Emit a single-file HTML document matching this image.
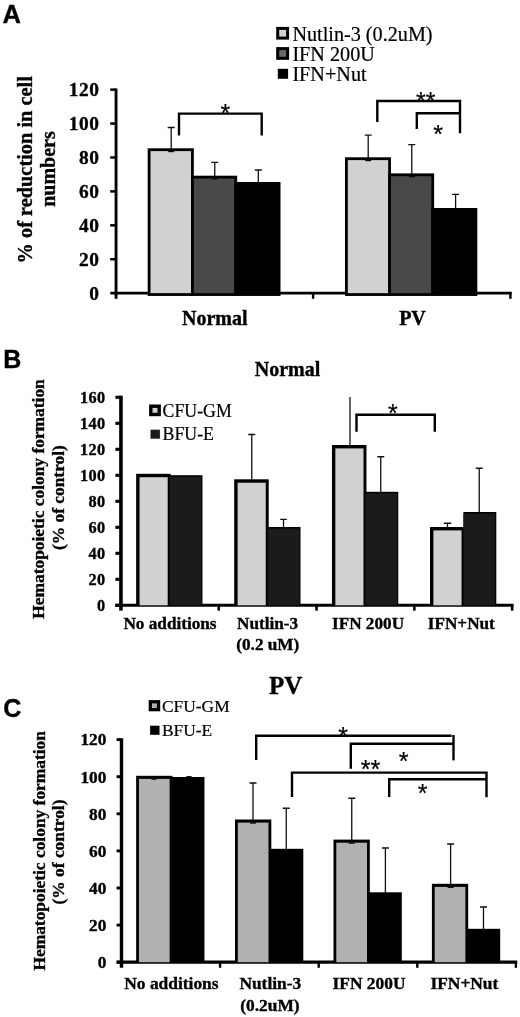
<!DOCTYPE html>
<html><head><meta charset="utf-8"><title>Figure</title>
<style>
html,body{margin:0;padding:0;background:#fff;}
svg{display:block;will-change:transform;filter:blur(0.4px);}
text{font-family:"Liberation Serif",serif;fill:#000;stroke:#000;stroke-width:0.2px;}
.b{font-weight:bold;stroke:#000;stroke-width:0.35px;}
.s{font-family:"Liberation Sans",sans-serif;}
.ax{stroke:#000;fill:none;}
.br{stroke:#000;stroke-width:2.4;fill:none;stroke-linejoin:miter;}
.er{stroke:#111;stroke-width:1.3;fill:none;}
</style></head><body>
<svg width="520" height="1017" viewBox="0 0 520 1017">
<rect width="520" height="1017" fill="#fff"/>
<text class="s b" x="2.5" y="22.8" font-size="25.5">A</text>
<path class="ax" stroke-width="2.9" d="M116.05 88.5V298.8"/>
<path class="ax" stroke-width="2.6" d="M110.3 293.15H511.8"/>
<path class="ax" stroke-width="2.5" d="M110.2 259.23H116.05"/>
<path class="ax" stroke-width="2.5" d="M110.2 225.31H116.05"/>
<path class="ax" stroke-width="2.5" d="M110.2 191.39H116.05"/>
<path class="ax" stroke-width="2.5" d="M110.2 157.47H116.05"/>
<path class="ax" stroke-width="2.5" d="M110.2 123.55H116.05"/>
<path class="ax" stroke-width="2.5" d="M110.2 89.63H116.05"/>
<path class="ax" stroke-width="2.4" d="M313.1 293.15V298.8"/>
<path class="ax" stroke-width="2.4" d="M510.4 293.15V298.8"/>
<text class="b" x="99.3" y="299.95" font-size="19.4" letter-spacing="0.45" text-anchor="end">0</text>
<text class="b" x="99.3" y="266.03" font-size="19.4" letter-spacing="0.45" text-anchor="end">20</text>
<text class="b" x="99.3" y="232.11" font-size="19.4" letter-spacing="0.45" text-anchor="end">40</text>
<text class="b" x="99.3" y="198.19" font-size="19.4" letter-spacing="0.45" text-anchor="end">60</text>
<text class="b" x="99.3" y="164.27" font-size="19.4" letter-spacing="0.45" text-anchor="end">80</text>
<text class="b" x="99.3" y="130.35" font-size="19.4" letter-spacing="0.45" text-anchor="end">100</text>
<text class="b" x="99.3" y="96.43" font-size="19.4" letter-spacing="0.45" text-anchor="end">120</text>
<rect x="149.10" y="149.70" width="43.33" height="144.85" fill="#d1d1d1" stroke="#000" stroke-width="2.8"/>
<rect x="192.43" y="177.10" width="43.33" height="117.45" fill="#494949" stroke="#000" stroke-width="2.8"/>
<rect x="235.76" y="183.40" width="43.33" height="111.15" fill="#000" stroke="#000" stroke-width="2.8"/>
<rect x="346.40" y="158.70" width="43.17" height="135.85" fill="#d1d1d1" stroke="#000" stroke-width="2.8"/>
<rect x="389.57" y="174.80" width="43.17" height="119.75" fill="#494949" stroke="#000" stroke-width="2.8"/>
<rect x="432.74" y="209.40" width="43.17" height="85.15" fill="#000" stroke="#000" stroke-width="2.8"/>
<path class="er" d="M171.20 149.50V127.50M167.70 127.50H174.70"/>
<path class="er" d="M214.75 177.00V162.30M211.25 162.30H218.25"/>
<path class="er" d="M258.30 183.00V170.00M254.80 170.00H261.80"/>
<path class="er" d="M368.20 158.50V135.10M364.70 135.10H371.70"/>
<path class="er" d="M411.80 174.60V144.70M408.30 144.70H415.30"/>
<path class="er" d="M455.60 209.00V194.30M452.10 194.30H459.10"/>
<rect x="168.20" y="150.80" width="6.00" height="1.4" fill="#0a0a0a"/>
<rect x="211.75" y="178.20" width="6.00" height="1.4" fill="#0a0a0a"/>
<rect x="365.20" y="159.80" width="6.00" height="1.4" fill="#0a0a0a"/>
<rect x="408.80" y="175.90" width="6.00" height="1.4" fill="#0a0a0a"/>
<path class="br" d="M179 135.5V113.6H261.7V135.5"/>
<path class="br" d="M377.3 122V101H460V133.2"/>
<path class="br" d="M416.8 129V113.3H460"/>
<text class="s" x="225.3" y="121.6" font-size="25" text-anchor="middle">*</text>
<text class="s" x="425.8" y="110.1" font-size="25" text-anchor="middle">**</text>
<text class="s" x="438" y="143.1" font-size="25" text-anchor="middle">*</text>
<rect x="277.7" y="28.4" width="9.9" height="9.7" fill="#d1d1d1" stroke="#000" stroke-width="3"/>
<rect x="277.7" y="48.6" width="9.9" height="9.7" fill="#6a6a6a" stroke="#000" stroke-width="3"/>
<rect x="277.8" y="68.8" width="10.3" height="10" fill="#000"/>
<text x="292.4" y="40.50" font-size="20.2">Nutlin-3 (0.2uM)</text>
<text x="292.4" y="60.65" font-size="20.2">IFN 200U</text>
<text x="292.4" y="80.80" font-size="20.2">IFN+Nut</text>
<text class="b" x="214.8" y="325" font-size="20" text-anchor="middle">Normal</text>
<text class="b" x="412.5" y="325" font-size="20" text-anchor="middle">PV</text>
<text class="b" font-size="20.35" text-anchor="middle" transform="translate(32 169.8) rotate(-90)">% of reduction in cell</text>
<text class="b" font-size="20" text-anchor="middle" transform="translate(55 169) rotate(-90)">numbers</text>
<text class="s b" x="3.2" y="367.6" font-size="25">B</text>
<text class="b" x="287.5" y="375.8" font-size="20" text-anchor="middle">Normal</text>
<path class="ax" stroke-width="3.6" d="M120.95 395.7V610.6"/>
<path class="ax" stroke-width="3.1" d="M115.4 605.3H513.6"/>
<path class="ax" stroke-width="3.1" d="M115.4 605.30H120.95"/>
<text class="b" x="105.5" y="611.00" font-size="16.3" letter-spacing="0.4" text-anchor="end">0</text>
<path class="ax" stroke-width="3.1" d="M115.4 579.30H120.95"/>
<text class="b" x="105.5" y="585.00" font-size="16.3" letter-spacing="0.4" text-anchor="end">20</text>
<path class="ax" stroke-width="3.1" d="M115.4 553.30H120.95"/>
<text class="b" x="105.5" y="559.00" font-size="16.3" letter-spacing="0.4" text-anchor="end">40</text>
<path class="ax" stroke-width="3.1" d="M115.4 527.30H120.95"/>
<text class="b" x="105.5" y="533.00" font-size="16.3" letter-spacing="0.4" text-anchor="end">60</text>
<path class="ax" stroke-width="3.1" d="M115.4 501.30H120.95"/>
<text class="b" x="105.5" y="507.00" font-size="16.3" letter-spacing="0.4" text-anchor="end">80</text>
<path class="ax" stroke-width="3.1" d="M115.4 475.30H120.95"/>
<text class="b" x="105.5" y="481.00" font-size="16.3" letter-spacing="0.4" text-anchor="end">100</text>
<path class="ax" stroke-width="3.1" d="M115.4 449.30H120.95"/>
<text class="b" x="105.5" y="455.00" font-size="16.3" letter-spacing="0.4" text-anchor="end">120</text>
<path class="ax" stroke-width="3.1" d="M115.4 423.30H120.95"/>
<text class="b" x="105.5" y="429.00" font-size="16.3" letter-spacing="0.4" text-anchor="end">140</text>
<path class="ax" stroke-width="3.1" d="M115.4 397.30H120.95"/>
<text class="b" x="105.5" y="403.00" font-size="16.3" letter-spacing="0.4" text-anchor="end">160</text>
<path class="ax" stroke-width="2.6" d="M218.75 605.3V610.6"/>
<path class="ax" stroke-width="2.6" d="M316.55 605.3V610.6"/>
<path class="ax" stroke-width="2.6" d="M414.35 605.3V610.6"/>
<path class="ax" stroke-width="2.6" d="M512.15 605.3V610.6"/>
<rect x="136.15" y="473.80" width="34.50" height="131.50" fill="#000"/>
<rect x="139.55" y="477.20" width="28.15" height="128.10" fill="#d1d1d1"/>
<rect x="169.60" y="475.20" width="32.85" height="130.10" fill="#000"/>
<rect x="169.60" y="476.70" width="31.75" height="128.60" fill="#1b1b1b"/>
<rect x="234.20" y="479.30" width="34.50" height="126.00" fill="#000"/>
<rect x="237.60" y="482.70" width="28.15" height="122.60" fill="#d1d1d1"/>
<rect x="267.65" y="527.00" width="32.85" height="78.30" fill="#000"/>
<rect x="267.65" y="528.50" width="31.75" height="76.80" fill="#1b1b1b"/>
<rect x="331.95" y="445.00" width="34.50" height="160.30" fill="#000"/>
<rect x="335.35" y="448.40" width="28.15" height="156.90" fill="#d1d1d1"/>
<rect x="365.40" y="491.80" width="32.85" height="113.50" fill="#000"/>
<rect x="365.40" y="493.30" width="31.75" height="112.00" fill="#1b1b1b"/>
<rect x="430.00" y="527.00" width="34.50" height="78.30" fill="#000"/>
<rect x="433.40" y="530.40" width="28.15" height="74.90" fill="#d1d1d1"/>
<rect x="463.45" y="512.00" width="32.85" height="93.30" fill="#000"/>
<rect x="463.45" y="513.50" width="31.75" height="91.80" fill="#1b1b1b"/>
<path class="er" d="M251.75 480.50V434.50M248.25 434.50H255.25"/>
<path class="er" d="M283.50 528.00V519.40M280.20 519.40H286.80"/>
<path class="er" d="M350.00 446.50V397.00"/>
<path class="er" d="M380.75 493.00V456.75M377.25 456.75H384.25"/>
<path class="er" d="M447.50 528.20V523.25M443.70 523.25H451.30"/>
<path class="er" d="M479.25 513.00V468.25M475.75 468.25H482.75"/>
<path class="br" d="M356.5 431.8V414.7H434.8V431.8"/>
<text class="s" x="392.9" y="421.6" font-size="25" text-anchor="middle">*</text>
<rect x="150.8" y="406.2" width="8.4" height="8.3" fill="#d1d1d1" stroke="#000" stroke-width="3.4"/>
<rect x="150.5" y="429.7" width="9.4" height="9" fill="#1b1b1b"/>
<text x="162.6" y="417.2" font-size="17.8">CFU-GM</text>
<text x="162.6" y="440.2" font-size="17.8">BFU-E</text>
<text class="b" x="170" y="628.8" font-size="17.2" text-anchor="middle">No additions</text>
<text class="b" x="267.6" y="628.8" font-size="17.2" text-anchor="middle">Nutlin-3</text>
<text class="b" x="368" y="628.8" font-size="17.2" text-anchor="middle">IFN 200U</text>
<text class="b" x="461.3" y="628.8" font-size="17.2" text-anchor="middle">IFN+Nut</text>
<text class="b" x="267.8" y="649.9" font-size="17.2" text-anchor="middle">(0.2 uM)</text>
<text class="b" font-size="17.4" text-anchor="middle" transform="translate(44.3 499) rotate(-90)">Hematopoietic colony formation</text>
<text class="b" font-size="17.4" text-anchor="middle" transform="translate(64 497.6) rotate(-90)">(% of control)</text>
<text class="s b" x="3.2" y="717.4" font-size="25">C</text>
<text class="b" x="285.6" y="693.8" font-size="25" text-anchor="middle">PV</text>
<path class="ax" stroke-width="3.4" d="M121.5 738.2V967.8"/>
<path class="ax" stroke-width="3.2" d="M116.6 962.2H517.2"/>
<path class="ax" stroke-width="2.9" d="M116.6 962.20H121.5"/>
<text class="b" x="106.4" y="968.00" font-size="17.3" text-anchor="end">0</text>
<path class="ax" stroke-width="2.9" d="M116.6 925.10H121.5"/>
<text class="b" x="106.4" y="930.90" font-size="17.3" text-anchor="end">20</text>
<path class="ax" stroke-width="2.9" d="M116.6 888.00H121.5"/>
<text class="b" x="106.4" y="893.80" font-size="17.3" text-anchor="end">40</text>
<path class="ax" stroke-width="2.9" d="M116.6 850.90H121.5"/>
<text class="b" x="106.4" y="856.70" font-size="17.3" text-anchor="end">60</text>
<path class="ax" stroke-width="2.9" d="M116.6 813.80H121.5"/>
<text class="b" x="106.4" y="819.60" font-size="17.3" text-anchor="end">80</text>
<path class="ax" stroke-width="2.9" d="M116.6 776.70H121.5"/>
<text class="b" x="106.4" y="782.50" font-size="17.3" text-anchor="end">100</text>
<path class="ax" stroke-width="2.9" d="M116.6 739.60H121.5"/>
<text class="b" x="106.4" y="745.40" font-size="17.3" text-anchor="end">120</text>
<path class="ax" stroke-width="2.4" d="M220.10 962.2V967.8"/>
<path class="ax" stroke-width="2.4" d="M318.70 962.2V967.8"/>
<path class="ax" stroke-width="2.4" d="M417.30 962.2V967.8"/>
<path class="ax" stroke-width="2.4" d="M515.90 962.2V967.8"/>
<rect x="136.15" y="775.80" width="36.30" height="186.40" fill="#000"/>
<rect x="138.95" y="778.90" width="30.70" height="183.30" fill="#b1b1b1"/>
<rect x="170.65" y="777.00" width="33.80" height="185.20" fill="#000"/>
<rect x="235.00" y="819.50" width="36.30" height="142.70" fill="#000"/>
<rect x="237.80" y="822.60" width="30.70" height="139.60" fill="#b1b1b1"/>
<rect x="269.50" y="848.80" width="33.80" height="113.40" fill="#000"/>
<rect x="333.50" y="839.60" width="36.30" height="122.60" fill="#000"/>
<rect x="336.30" y="842.70" width="30.70" height="119.50" fill="#b1b1b1"/>
<rect x="368.00" y="892.30" width="33.80" height="69.90" fill="#000"/>
<rect x="431.90" y="883.80" width="36.30" height="78.40" fill="#000"/>
<rect x="434.70" y="886.90" width="30.70" height="75.30" fill="#b1b1b1"/>
<rect x="466.40" y="928.80" width="33.80" height="33.40" fill="#000"/>
<rect x="151.4" y="778.5" width="5.2" height="1.3" fill="#111"/>
<rect x="186.4" y="776.1" width="5.2" height="1.2" fill="#000"/>
<path class="er" d="M253.00 821.00V783.00M249.50 783.00H256.50"/>
<path class="er" d="M286.25 850.00V808.25M282.75 808.25H289.75"/>
<path class="er" d="M351.75 841.00V798.25M348.25 798.25H355.25"/>
<path class="er" d="M385.40 894.00V848.00M381.90 848.00H388.90"/>
<path class="er" d="M450.60 885.00V844.00M447.10 844.00H454.10"/>
<path class="er" d="M483.50 930.00V907.00M480.00 907.00H487.00"/>
<rect x="250.00" y="822.30" width="6.00" height="1.4" fill="#0a0a0a"/>
<rect x="348.75" y="842.40" width="6.00" height="1.4" fill="#0a0a0a"/>
<rect x="447.60" y="886.60" width="6.00" height="1.4" fill="#0a0a0a"/>
<path class="br" d="M256.2 760V735.8H451.6"/>
<path class="br" d="M453.5 735V760.4"/>
<path class="br" d="M350.8 768.8V743.8H453.5"/>
<path class="br" d="M292 797V772.6H486.5V797.3"/>
<path class="br" d="M389.2 797V779.2H486.5"/>
<text class="s" x="343" y="745.1" font-size="25" text-anchor="middle">*</text>
<text class="s" x="403.6" y="770.1" font-size="25" text-anchor="middle">*</text>
<text class="s" x="370.6" y="778.1" font-size="25" text-anchor="middle">**</text>
<text class="s" x="422.7" y="802.1" font-size="25" text-anchor="middle">*</text>
<rect x="150.35" y="701.75" width="8.2" height="7.9" fill="#b1b1b1" stroke="#000" stroke-width="3.3"/>
<rect x="150.1" y="725.7" width="9.4" height="9.1" fill="#000"/>
<text x="162" y="711.8" font-size="17.4">CFU-GM</text>
<text x="162" y="736.3" font-size="17.4">BFU-E</text>
<text class="b" x="171.4" y="989.4" font-size="17.4" text-anchor="middle">No additions</text>
<text class="b" x="270.3" y="989.4" font-size="17.4" text-anchor="middle">Nutlin-3</text>
<text class="b" x="369" y="989.4" font-size="17.4" text-anchor="middle">IFN 200U</text>
<text class="b" x="464.4" y="989.4" font-size="17.4" text-anchor="middle">IFN+Nut</text>
<text class="b" x="269.9" y="1010.5" font-size="17.4" text-anchor="middle">(0.2uM)</text>
<text class="b" font-size="17.4" text-anchor="middle" transform="translate(44.5 850.8) rotate(-90)">Hematopoietic colony formation</text>
<text class="b" font-size="17.4" text-anchor="middle" transform="translate(64 852) rotate(-90)">(% of control)</text>
</svg></body></html>
